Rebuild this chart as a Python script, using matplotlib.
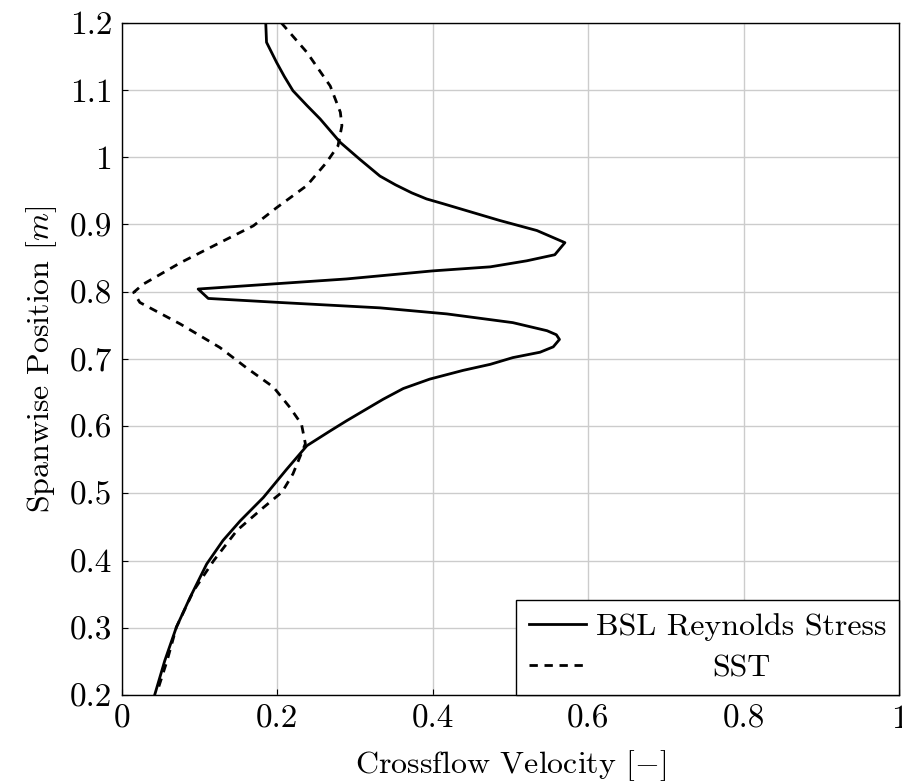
import matplotlib
matplotlib.use("Agg")
import matplotlib.pyplot as plt
from matplotlib.offsetbox import VPacker
from matplotlib.ticker import FuncFormatter

plt.rcParams["font.family"] = "serif"
plt.rcParams["font.serif"] = ["cmr10"]
plt.rcParams["mathtext.fontset"] = "cm"
plt.rcParams["axes.unicode_minus"] = False
plt.rcParams["axes.formatter.use_mathtext"] = True

# crossflow velocity vs spanwise position, two turbulence models
bsl_u = [0.185, 0.186, 0.199, 0.209, 0.220, 0.238, 0.255, 0.281, 0.306, 0.332,
         0.352, 0.373, 0.392, 0.413, 0.486, 0.534, 0.570, 0.557, 0.521, 0.474,
         0.400, 0.289, 0.098, 0.111, 0.203, 0.332, 0.418, 0.503, 0.547, 0.559,
         0.563, 0.555, 0.538, 0.503, 0.474, 0.439, 0.396, 0.362, 0.336, 0.311,
         0.289, 0.268, 0.238, 0.212, 0.182, 0.152, 0.130, 0.109, 0.0875, 0.070,
         0.055, 0.042]
bsl_z = [1.200, 1.171, 1.141, 1.120, 1.099, 1.077, 1.057, 1.022, 0.997, 0.972,
         0.959, 0.947, 0.938, 0.931, 0.906, 0.891, 0.873, 0.855, 0.846, 0.837,
         0.831, 0.819, 0.804, 0.790, 0.784, 0.776, 0.767, 0.754, 0.742, 0.736,
         0.729, 0.718, 0.710, 0.702, 0.692, 0.683, 0.670, 0.656, 0.640, 0.623,
         0.608, 0.593, 0.571, 0.536, 0.494, 0.459, 0.430, 0.395, 0.345, 0.301,
         0.251, 0.200]

sst_u = [0.205, 0.238, 0.268, 0.281, 0.283, 0.278, 0.263, 0.238, 0.199, 0.169,
         0.126, 0.075, 0.027, 0.015, 0.023, 0.075, 0.126, 0.160, 0.195, 0.216,
         0.231, 0.236, 0.220, 0.206, 0.182, 0.148, 0.118, 0.092, 0.070, 0.058,
         0.045]
sst_z = [1.200, 1.156, 1.106, 1.067, 1.047, 1.017, 0.992, 0.958, 0.925, 0.898,
         0.873, 0.843, 0.811, 0.799, 0.784, 0.752, 0.717, 0.687, 0.658, 0.628,
         0.603, 0.574, 0.529, 0.502, 0.479, 0.445, 0.400, 0.355, 0.301, 0.251,
         0.204]

x_ticks = [0, 0.2, 0.4, 0.6, 0.8, 1.0]
y_ticks = [0.2, 0.3, 0.4, 0.5, 0.6, 0.7, 0.8, 0.9, 1.0, 1.1, 1.2]

fig = plt.figure(figsize=(9.03, 7.81), dpi=100)
ax = fig.add_axes([0.1351, 0.110, 0.8605, 0.8608])

ax.plot(bsl_u, bsl_z, color="black", lw=2.0, label="BSL Reynolds Stress")
ax.plot(sst_u, sst_z, color="black", lw=2.0, dashes=(3.0, 2.4), label="SST")

ax.set_xlim(0, 1)
ax.set_ylim(0.2, 1.2)
ax.set_xticks(x_ticks)
ax.set_yticks(y_ticks)
fmt = FuncFormatter(lambda v, p: f"{v:g}")
ax.xaxis.set_major_formatter(fmt)
ax.yaxis.set_major_formatter(fmt)
ax.tick_params(direction="in", length=4, width=0.8, labelsize=24, pad=7)
ax.grid(True, color="#cccccc", lw=1.0)
ax.set_axisbelow(True)
for s in ax.spines.values():
    s.set_linewidth(1.0)

ax.set_xlabel("Crossflow Velocity [$-$]", fontsize=23, labelpad=10)
ax.set_ylabel("Spanwise Position [$m$]", fontsize=23, labelpad=8)

leg = ax.legend(loc="lower right", borderaxespad=0, fontsize=23,
                fancybox=False, framealpha=1, edgecolor="black",
                handlelength=1.8, borderpad=0.4, labelspacing=0.4,
                handletextpad=0.3)
leg.get_frame().set_linewidth(1.0)

# center the shorter label under the longer one, like pgfplots does
fig.canvas.draw()
r = fig.canvas.get_renderer()
w = leg.texts[0].get_window_extent(r).width
rows = leg._legend_handle_box.get_children()[0].get_children()
for row in rows:
    kids = row.get_children()
    box = VPacker(children=[kids[1]], width=w, align="center", pad=0, sep=0)
    box.set_figure(fig)
    kids[1] = box

fig.savefig("out.png", dpi=100)
